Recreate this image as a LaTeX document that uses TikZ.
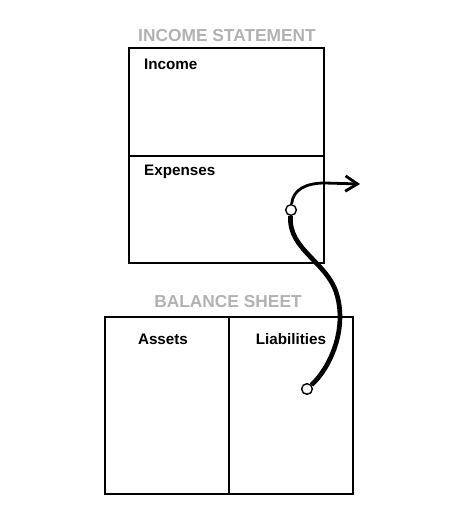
\documentclass[tikz,border=0pt]{standalone}
\usepackage{fontspec}
\setmainfont{Liberation Sans}
\usetikzlibrary{positioning,arrows.meta}

\begin{document}
\begin{tikzpicture}[
    x=0.03cm, y=-0.03cm,
    panel/.style={draw, line width=1.8pt, inner sep=0pt, outer sep=0pt},
    title/.style={font=\fontsize{14.8}{16}\selectfont\bfseries, text=black!30},
    item/.style={font=\fontsize{13}{15}\selectfont\bfseries},
    dot/.style={circle, draw, fill=white, line width=1.2pt,
                minimum size=3.2mm, inner sep=0pt},
    flow/.style={line width=4pt},
    flowout/.style={line width=2.4pt, -{Straight Barb[length=3.6mm, width=4.6mm]}},
  ]
  \useasboundingbox (0,0) rectangle (451,508);

  % --- income statement ---
  \node[panel, anchor=north west, minimum width=5.85cm, minimum height=3.24cm]
    (inc) at (129,48) {};
  \node[panel, below=0pt of inc, minimum width=5.85cm, minimum height=3.21cm] (exp) {};
  \node[title] (inctitle) at (227,36) {INCOME STATEMENT};
  \node[item, anchor=west] (inclbl) at (140,64) {Income};
  \node[item, anchor=west] (explbl) at (140,172) {Expenses};

  % --- balance sheet ---
  \node[panel, anchor=north west, minimum width=3.72cm, minimum height=5.31cm]
    (assets) at (105,317) {};
  \node[panel, right=0pt of assets, minimum width=3.72cm, minimum height=5.31cm] (liab) {};
  \node[title] (baltitle) at (228,302) {BALANCE SHEET};
  \node[item] (assetslbl) at (163,339) {Assets};
  \node[item] (liablbl) at (291,339) {Liabilities};

  % --- flow from liabilities through expenses ---
  \node[dot] (liabdot) at (307,389) {};
  \node[dot] (expdot) at (291,210) {};
  \coordinate (out) at (360,184);

  \draw[flow] (liabdot) .. controls (330,368) and (347,330) .. (337,295)
    .. controls (328,262) and (288,250) .. (expdot);
  \draw[flowout] (expdot) .. controls (293,190) and (305,183) .. (325,183) -- (out);
\end{tikzpicture}
\end{document}
